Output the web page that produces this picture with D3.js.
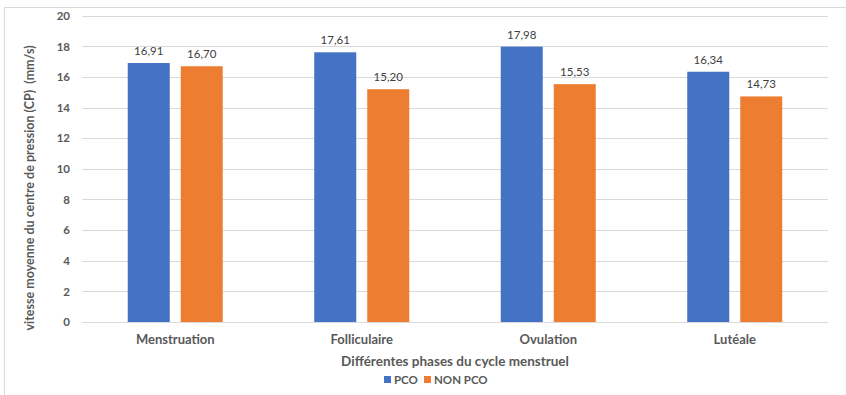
<!DOCTYPE html>
<html><head><meta charset="utf-8">
<script src="https://cdn.jsdelivr.net/npm/d3@7"></script>
<style>body{margin:0;background:#fff}svg{display:block}</style>
</head><body>
<script>
const categories = ["Menstruation", "Folliculaire", "Ovulation", "Lutéale"];
const seriesNames = ["PCO", "NON PCO"];
const pco = [16.91, 17.61, 17.98, 16.34];
const nonPco = [16.70, 15.20, 15.53, 14.73];
const yTicks = [0, 2, 4, 6, 8, 10, 12, 14, 16, 18, 20];
const colors = ["#4472C4", "#ED7D31"];

const W = 846, H = 395;
const svg = d3.select("body").append("svg").attr("width", W).attr("height", H);
const font = "Lato, 'Open Sans', sans-serif";

// outer frame
svg.append("line").attr("x1", 4.5).attr("x2", 4.5).attr("y1", 7).attr("y2", H).attr("stroke", "#d9d9d9");
svg.append("line").attr("x1", 4.5).attr("x2", W).attr("y1", 7.5).attr("y2", 7.5).attr("stroke", "#d9d9d9");

const x0 = d3.scaleBand().domain(categories).range([82, 828]).paddingInner(0).paddingOuter(0);
const x1 = d3.scaleBand().domain(seriesNames).range([0, 95]).paddingInner(11/95*2/ (1+11/95)).paddingOuter(0);
const y = d3.scaleLinear().domain([0, 20]).range([322, 15.7]);

// gridlines
svg.append("g").selectAll("line").data(yTicks).join("line")
  .attr("x1", 82).attr("x2", 828)
  .attr("y1", d => Math.round(y(d)) + 0.5).attr("y2", d => Math.round(y(d)) + 0.5)
  .attr("stroke", "#d9d9d9").attr("stroke-width", 1);

// y tick labels
const yAxis = d3.axisLeft(y).tickValues(yTicks).tickSize(0).tickPadding(0).tickFormat(d3.format("d"));
const gy = svg.append("g").attr("transform", "translate(70,0)").call(yAxis);
gy.select(".domain").remove();
gy.selectAll("text").attr("font-family", font).attr("font-weight", "bold").attr("font-size", 11.5).attr("fill", "#595959");

const data = categories.map((c, i) => ({cat: c, vals: [pco[i], nonPco[i]]}));
const groupOffset = (x0.bandwidth() - 95) / 2;

const groups = svg.append("g").selectAll("g").data(data).join("g")
  .attr("transform", d => `translate(${x0(d.cat) + groupOffset},0)`);

groups.selectAll("rect").data(d => d.vals.map((v, j) => ({s: seriesNames[j], v, j}))).join("rect")
  .attr("x", d => x1(d.s)).attr("width", x1.bandwidth())
  .attr("y", d => y(d.v)).attr("height", d => y(0) - y(d.v))
  .attr("fill", d => colors[d.j]);

const fmt = d3.format(".2f");
groups.selectAll("text").data(d => d.vals.map((v, j) => ({s: seriesNames[j], v, j}))).join("text")
  .attr("x", d => x1(d.s) + x1.bandwidth() / 2).attr("y", d => y(d.v) - 8)
  .attr("text-anchor", "middle").attr("font-family", font).attr("font-size", 11.5).attr("fill", "#404040")
  .text(d => fmt(d.v).replace(".", ","));

// x axis line
svg.append("line").attr("x1", 82).attr("x2", 828).attr("y1", 322.5).attr("y2", 322.5).attr("stroke", "#d9d9d9");

// x category labels
const xAxis = d3.axisBottom(x0).tickSize(0).tickPadding(0);
const gx = svg.append("g").attr("transform", "translate(0,335)").call(xAxis);
gx.select(".domain").remove();
gx.selectAll("text").attr("font-family", font).attr("font-weight", "bold").attr("font-size", 13).attr("fill", "#595959");

// x title
svg.append("text").attr("x", 455).attr("y", 366).attr("text-anchor", "middle")
  .attr("font-family", font).attr("font-weight", "bold").attr("font-size", 13.5).attr("fill", "#595959")
  .text("Différentes phases du cycle menstruel");

// y title
svg.append("text").attr("transform", "translate(34,188) rotate(-90)").attr("text-anchor", "middle")
  .attr("font-family", font).attr("font-weight", "bold").attr("font-size", 12.5).attr("fill", "#595959")
  .attr("xml:space", "preserve")
  .text("vitesse moyenne du centre de pression (CP)  (mm/s)");

// legend
const legendX = [384, 424];
const lg = svg.append("g").selectAll("g").data(seriesNames).join("g")
  .attr("transform", (d, i) => `translate(${legendX[i]},376)`);
lg.append("rect").attr("width", 7).attr("height", 7).attr("fill", (d, i) => colors[i]);
lg.append("text").attr("x", 10).attr("y", 7.5).attr("font-family", font).attr("font-weight", "bold")
  .attr("font-size", 11.5).attr("fill", "#595959").text(d => d);
</script>
</body></html>
